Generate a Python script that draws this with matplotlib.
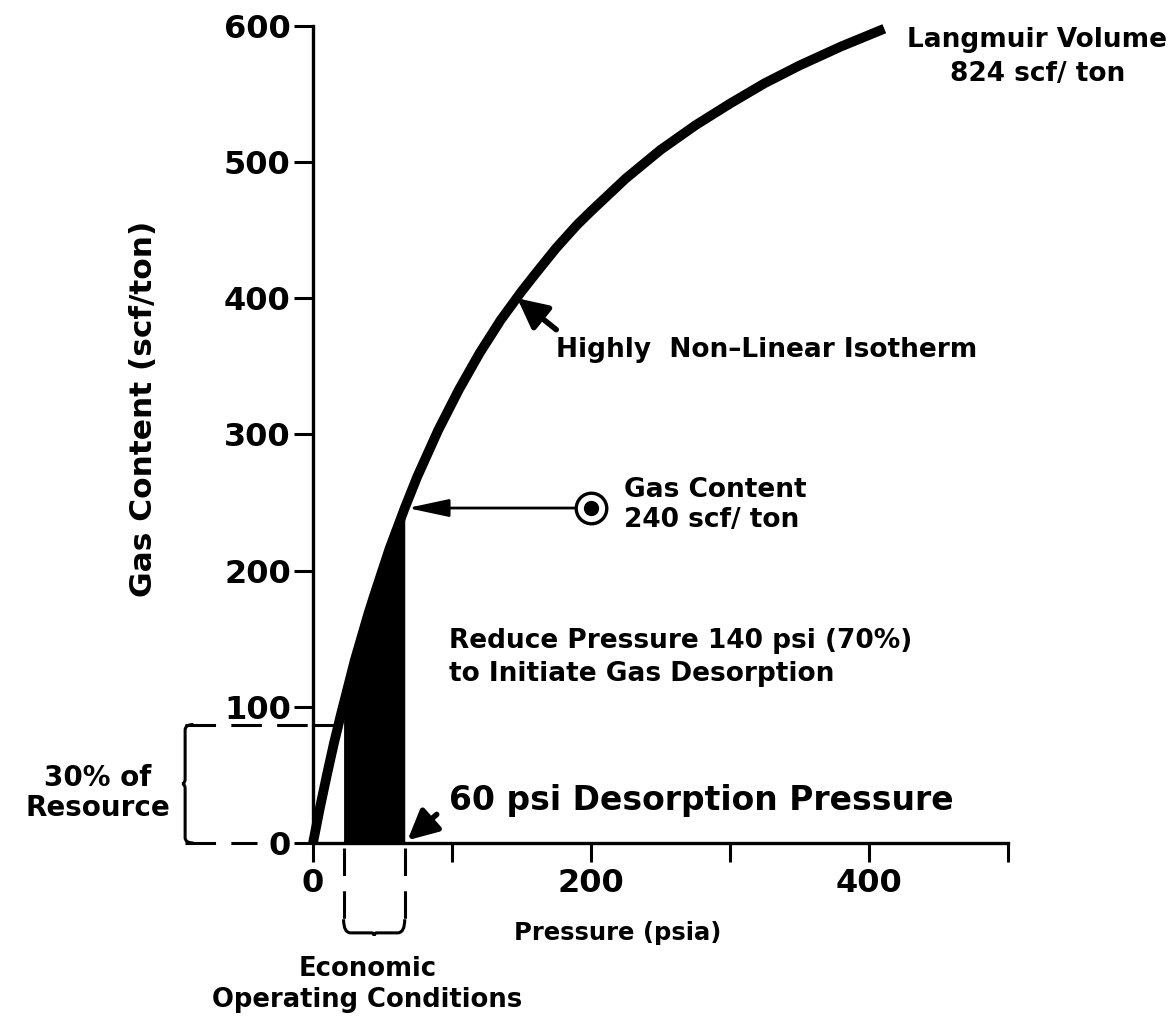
import matplotlib
matplotlib.use("Agg")
import matplotlib.pyplot as plt
from matplotlib.path import Path
from matplotlib.patches import PathPatch

plt.rcParams['font.family'] = ['DejaVu Sans']
plt.rcParams['font.weight'] = 'bold'

# Isotherm (pressure psia, gas content scf/ton)
pressure = [0, 5, 10, 15, 20, 30, 40, 45, 55, 66, 75, 90, 105, 120, 135, 150,
            160, 175, 190, 200, 225, 250, 275, 300, 325, 350, 380, 411]
gas_content = [0, 26, 50, 73, 94, 134, 169, 185, 216, 246, 269, 303, 333, 360,
               384, 405, 418, 437, 454, 464, 488, 509, 527, 543, 558, 571, 585, 598]

# Shaded desorption region (economic operating conditions)
fill_pressure = [22, 30, 40, 45, 55, 66]
fill_content = [102, 134, 169, 185, 216, 246]

econ_low, econ_high = 22, 66
resource_level = 87
gas_point = (200, 246)

x_ticks = [0, 100, 200, 300, 400, 500]
x_labels = ['0', '', '200', '', '400', '']
y_ticks = [0, 100, 200, 300, 400, 500, 600]
y_labels = ['0', '100', '200', '300', '400', '500', '600']

fig = plt.figure(figsize=(11.76, 10.21), dpi=100)
ax = fig.add_axes([313/1176, (1021-843)/1021, 695/1176, 817/1021])
ax.set_xlim(0, 500)
ax.set_ylim(0, 600)
for s in ['top', 'right']:
    ax.spines[s].set_visible(False)
for s in ['left', 'bottom']:
    ax.spines[s].set_linewidth(2.4)
ax.set_xticks(x_ticks)
ax.set_xticklabels(x_labels)
ax.set_yticks(y_ticks)
ax.set_yticklabels(y_labels)
ax.tick_params(axis='both', direction='out', length=14, width=2.2, labelsize=23)
ax.tick_params(axis='y', pad=2)
ax.tick_params(axis='x', pad=4)

# isotherm
ax.plot(pressure, gas_content, color='black', lw=7, solid_capstyle='butt',
        solid_joinstyle='round', clip_on=False, zorder=3)
ax.fill_between(fill_pressure, 0, fill_content, color='black', lw=0, zorder=2)

# resource level line
ax.plot([-92, 0], [resource_level, resource_level], color='black', lw=2.2,
        dashes=(10, 5), clip_on=False)
ax.plot([0, 17], [resource_level, resource_level], color='black', lw=2.2, clip_on=False)
ax.plot([-92, -40], [0, 0], color='black', lw=2.2, dashes=(10, 5), clip_on=False)

# left brace
verts = [(-86, resource_level), (-92, resource_level), (-92, resource_level - 4),
         (-92, 47), (-92, 44), (-94, 43.5),
         (-92, 43), (-92, 40),
         (-92, 4), (-92, 0), (-86, 0)]
codes = [Path.MOVETO, Path.CURVE3, Path.CURVE3,
         Path.LINETO, Path.CURVE3, Path.CURVE3,
         Path.CURVE3, Path.CURVE3,
         Path.LINETO, Path.CURVE3, Path.CURVE3]
ax.add_patch(PathPatch(Path(verts, codes), fill=False, lw=2.2, clip_on=False))

# economic conditions verticals and bottom brace
for xv in [econ_low, econ_high]:
    ax.plot([xv, xv], [-4, -56], color='black', lw=2.2, dashes=(9, 5), clip_on=False)
bverts = [(econ_low, -56), (econ_low, -66), (econ_low + 5, -66),
          (econ_low + 20, -66), (econ_low + 22, -66), (econ_low + 22, -68),
          (econ_low + 22, -66), (econ_low + 24, -66),
          (econ_high - 5, -66), (econ_high, -66), (econ_high, -56)]
ax.add_patch(PathPatch(Path(bverts, codes), fill=False, lw=2.2, clip_on=False))

# gas content point and arrow
ax.plot(*gas_point, marker='o', ms=22, mfc='white', mec='black', mew=2.4, clip_on=False, zorder=4)
ax.plot(*gas_point, marker='o', ms=10, color='black', clip_on=False, zorder=5)
ax.annotate('', xy=(68, gas_point[1]), xytext=(gas_point[0] - 8, gas_point[1]),
            arrowprops=dict(arrowstyle='-|>,head_length=1.4,head_width=0.3',
                            mutation_scale=18, lw=2, color='black', shrinkA=0, shrinkB=0))

# isotherm arrow
ax.annotate('', xy=(147, 400), xytext=(175, 377),
            arrowprops=dict(arrowstyle='-|>,head_length=0.9,head_width=0.45',
                            mutation_scale=20, lw=4, color='black', shrinkA=0, shrinkB=0))
# desorption pressure arrow
ax.annotate('', xy=(68, 2), xytext=(89, 21),
            arrowprops=dict(arrowstyle='-|>,head_length=0.9,head_width=0.45',
                            mutation_scale=20, lw=4, color='black', shrinkA=0, shrinkB=0),
            annotation_clip=False)

fs = 19
ax.text(521, 577, 'Langmuir Volume\n824 scf/ ton', ha='center', va='center', fontsize=fs,
        linespacing=1.4)
ax.text(175, 362, 'Highly  Non\u2013Linear Isotherm', ha='left', va='center', fontsize=fs)
ax.text(224, 248, 'Gas Content\n240 scf/ ton', ha='left', va='center', fontsize=fs,
        linespacing=1.2)
ax.text(98, 136, 'Reduce Pressure 140 psi (70%)\nto Initiate Gas Desorption', ha='left',
        va='center', fontsize=fs, linespacing=1.35)
ax.text(98, 31, '60 psi Desorption Pressure', ha='left', va='center', fontsize=23.8)
ax.text(-155, 37, '30% of\nResource', ha='center', va='center', fontsize=20, linespacing=1.1)
ax.text(219, -66, 'Pressure (psia)', ha='center', va='center', fontsize=17.5)
ax.text(39, -104, 'Economic\nOperating Conditions', ha='center', va='center', fontsize=18.6,
        linespacing=1.25)
ax.text(-122, 319, 'Gas Content (scf/ton)', ha='center', va='center', fontsize=22.5,
        rotation=90)

fig.savefig('out.png', dpi=100)
